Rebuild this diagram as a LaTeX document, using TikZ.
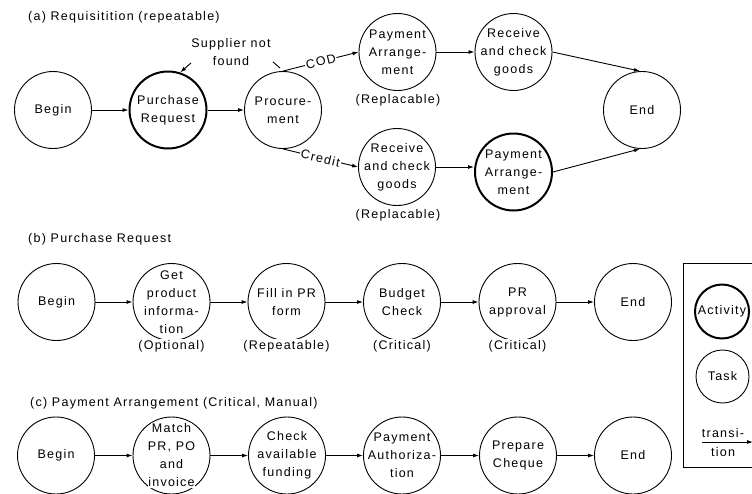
\documentclass[tikz,border=0pt]{standalone}
\usepackage{fontspec}
\setmainfont{Liberation Sans}[LetterSpace=10]
\usetikzlibrary{arrows.meta}
\newcommand\nsz{\fontsize{12.5}{18}\selectfont}
% white backing behind a text line, so the text breaks the circle outline
\newcommand\wl[1]{{\setlength\fboxsep{0.5pt}\colorbox{white}{#1}}}
\begin{document}
\begin{tikzpicture}[x=1pt,y=-1pt,
  >={Latex[length=6pt,width=4pt]},
  state/.style={circle,draw,line width=0.9pt,minimum size=77pt,inner sep=0pt},
  activity/.style={state,line width=2pt},
  txt/.style={font=\nsz,align=center,inner sep=0pt},
  note/.style={font=\nsz,fill=white,inner sep=1pt},
  heading/.style={font=\nsz,anchor=west,inner sep=0pt},
  flow/.style={->,line width=0.9pt},
  guard/.style={font=\nsz,fill=white,inner sep=1pt,sloped,midway}]
\useasboundingbox (0,0) rectangle (752,493);
\clip (0,0) rectangle (752,493);

% ---------- (a) Requisition ----------
\node[heading] (ta) at (28,17) {(a) Requisitition (repeatable)};
\node[state,label={[txt]center:Begin}] (a1) at (53,110) {};
\node[activity,label={[txt]center:{Purchase\\Request}}] (a2) at (168,110) {};
\node[state,label={[txt]center:{Procure-\\ment}}] (a3) at (283,110) {};
\node[state,label={[txt]center:{\wl{Payment}\\\wl{Arrange-}\\\wl{ment}}}] (a4) at (397.5,52) {};
\node[state,label={[txt]center:{\wl{Receive}\\\wl{and check}\\\wl{goods}}}] (a5) at (513.5,52) {};
\node[state,label={[txt]center:{\wl{Receive}\\\wl{and check}\\\wl{goods}}}] (a6) at (397,167) {};
\node[activity,label={[txt]center:{\wl{Payment}\\\wl{Arrange-}\\\wl{ment}}}] (a7) at (513.5,172) {};
\node[state,label={[txt]center:End}] (a8) at (642,110) {};
\node[note] (r1) at (398,100) {(Replacable)};
\node[note] (r2) at (398,215) {(Replacable)};

\node[txt] (snf) at (231,52) {Supplier not\\found};
\coordinate (snfa) at (191,63);
\draw[flow] (snfa) -- (a2.72);
\coordinate (tk1) at (273,62);
\coordinate (tk2) at (280,68);
\draw[line width=0.9pt] (tk1) -- (tk2);

\draw[flow] (a1) -- (a2);
\draw[flow] (a2) -- (a3);
\draw[flow] (a3.north) -- node[guard] {COD} (a4.west);
\draw[flow] (a3.south) -- node[guard] {Credit} (a6.west);
\draw[flow] (a4) -- (a5);
\draw[flow] (a5.east) -- (a8.93);
\draw[flow] (a6.east) -- (a6.east -| a7.west);
\draw[flow] (a7.east) -- (a8.-93);

% ---------- (b) Purchase Request ----------
\node[heading] (tb) at (28,239) {(b) Purchase Request};
\node[state,label={[txt]center:Begin}] (b1) at (56.5,302) {};
\node[state,label={[txt]center:{\wl{Get}\\\wl{product}\\\wl{informa-}\\\wl{tion}}}] (b2) at (171.5,302) {};
\node[state,label={[txt]center:{\wl{Fill in PR}\\\wl{form}}}] (b3) at (286.5,302) {};
\node[state,label={[txt]center:{Budget\\Check}}] (b4) at (402,302) {};
\node[state,label={[txt]center:{PR\\approval}}] (b5) at (517.5,302) {};
\node[state,label={[txt]center:End}] (b6) at (633,302) {};
\node[note] (n2) at (171.5,346) {(Optional)};
\node[note] (n3) at (286.5,346) {(Repeatable)};
\node[note] (n4) at (402,346) {(Critical)};
\node[note] (n5) at (517.5,346) {(Critical)};
\draw[flow] (b1) -- (b2);
\draw[flow] (b2) -- (b3);
\draw[flow] (b3) -- (b4);
\draw[flow] (b4) -- (b5);
\draw[flow] (b5) -- (b6);

% ---------- (c) Payment Arrangement ----------
\node[heading] (tc) at (30,403.5) {(c) Payment Arrangement (Critical, Manual)};
\node[state,label={[txt]center:Begin}] (c1) at (56,455.5) {};
\node[state,label={[txt]center:{\wl{Match}\\\wl{PR, PO}\\\wl{and}\\\wl{invoice}}}] (c2) at (171.5,455.5) {};
\node[state,label={[txt]center:{\wl{Check}\\\wl{available}\\\wl{funding}}}] (c3) at (287,455.5) {};
\node[state,label={[txt]center:{\wl{Payment}\\\wl{Authoriza-}\\\wl{tion}}}] (c4) at (402,455.5) {};
\node[state,label={[txt]center:{Prepare\\Cheque}}] (c5) at (518,455.5) {};
\node[state,label={[txt]center:End}] (c6) at (633,455.5) {};
\draw[flow] (c1) -- (c2);
\draw[flow] (c2) -- (c3);
\draw[flow] (c3) -- (c4);
\draw[flow] (c4) -- (c5);
\draw[flow] (c5) -- (c6);

% ---------- legend ----------
\node[draw,line width=0.9pt,minimum width=87pt,minimum height=204pt,anchor=north west,inner sep=0pt] (lg) at (683,263) {};
\node[activity,minimum size=54pt,label={[txt]center:{\wl{Activity}}}] (la) at (722,311.5) {};
\node[state,minimum size=53pt,label={[txt]center:Task}] (lt) at (722.5,376.5) {};
\coordinate (ls) at (702,442);
\coordinate (le) at (753,442);
\draw[flow] (ls) -- (le);
\node[txt] (lx1) at (723,433) {transi-};
\node[txt] (lx2) at (723,452) {tion};
\end{tikzpicture}
\end{document}
